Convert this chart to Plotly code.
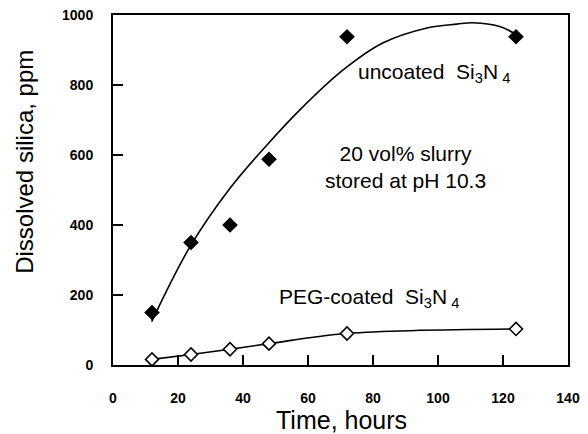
import plotly.graph_objects as go

# Data
time_h = [12, 24, 36, 48, 72, 124]
uncoated_ppm = [150, 350, 400, 588, 938, 938]
peg_ppm = [16, 30, 45, 61, 90, 103]

# Fitted curve for uncoated Si3N4
fit_x = [11.9, 23.7, 36, 47.3, 57.5, 70.8, 83, 96.6, 105.8, 110.8, 119, 124.3]
fit_y = [124, 338, 505, 628, 729, 843, 920, 963, 974, 978, 967, 943]

x_ticks = [0, 20, 40, 60, 80, 100, 120, 140]
y_ticks = [0, 200, 400, 600, 800, 1000]

font = "Liberation Sans, Arial, Helvetica, sans-serif"
tickfont = dict(size=14, family=font, weight="bold")

fig = go.Figure()
fig.add_trace(go.Scatter(x=fit_x, y=fit_y, mode="lines",
                         line=dict(color="black", width=1.6, shape="spline", smoothing=1.0),
                         showlegend=False, hoverinfo="skip"))
fig.add_trace(go.Scatter(x=time_h, y=uncoated_ppm, mode="markers",
                         marker=dict(symbol="diamond", size=12, color="black"), showlegend=False))
fig.add_trace(go.Scatter(x=time_h, y=peg_ppm, mode="lines+markers",
                         line=dict(color="black", width=1.6, shape="spline"),
                         marker=dict(symbol="diamond", size=10, color="white",
                                     line=dict(color="black", width=1.6)),
                         showlegend=False))

axis_common = dict(ticks="inside", ticklen=10, tickwidth=2, tickcolor="black",
                   showline=True, linecolor="black", linewidth=2, mirror=True,
                   showgrid=False, zeroline=False, tickfont=tickfont, automargin=False,
                   ticklabeloverflow="allow")

# the page body adds an 8px offset, so margins are compensated
fig.update_layout(
    width=588, height=434,
    margin=dict(l=105, r=28, t=7, b=77, autoexpand=False),
    paper_bgcolor="white", plot_bgcolor="white",
    font=dict(family=font, color="black"),
    xaxis=dict(range=[0, 140], tickvals=x_ticks, ticklabelstandoff=19, **axis_common),
    yaxis=dict(range=[0, 1000], tickvals=y_ticks, ticklabelstandoff=15, **axis_common),
    annotations=[
        dict(x=0.503, y=-0.158, xref="paper", yref="paper", text="Time, hours", showarrow=False,
             font=dict(size=25), xanchor="center", yanchor="middle"),
        dict(x=-0.196, y=0.58, xref="paper", yref="paper", text="Dissolved silica, ppm", showarrow=False,
             font=dict(size=24), textangle=-90, xanchor="center", yanchor="middle"),
        dict(x=98.8, y=835, xref="x", yref="y", text="uncoated  Si<sub>3</sub>N<sub> 4</sub>",
             showarrow=False, font=dict(size=21)),
        dict(x=90, y=566, xref="x", yref="y", text="20 vol% slurry<br>stored at pH 10.3",
             showarrow=False, font=dict(size=21)),
        dict(x=78.8, y=191, xref="x", yref="y", text="PEG-coated  Si<sub>3</sub>N<sub> 4</sub>",
             showarrow=False, font=dict(size=21)),
    ],
)
fig.write_html("out.html")
